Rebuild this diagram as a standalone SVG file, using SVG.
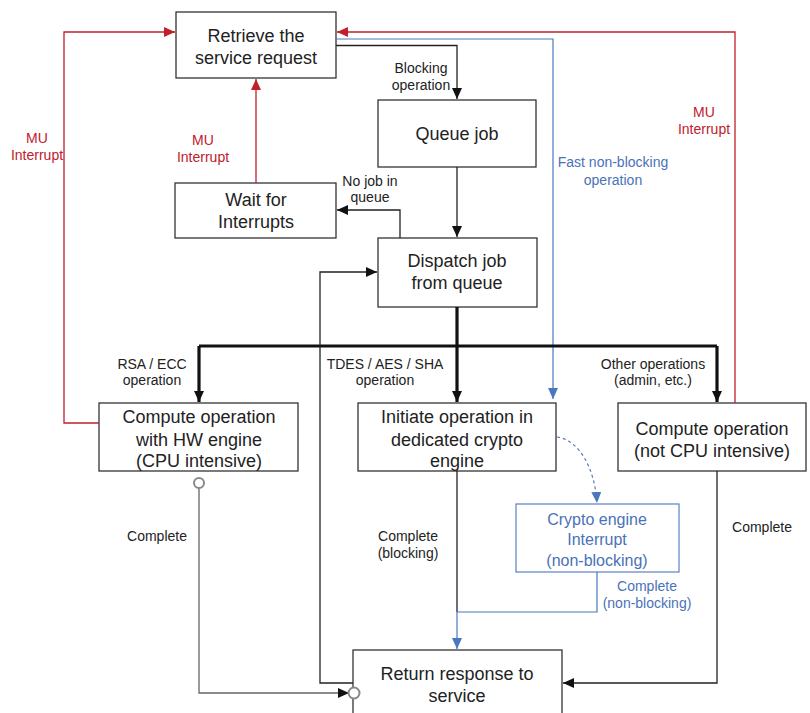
<svg xmlns="http://www.w3.org/2000/svg" width="810" height="713" viewBox="0 0 810 713">
<style>
  .box{fill:#fff;stroke:#333;stroke-width:1.3}
  .bbox{fill:#fff;stroke:#5a82c4;stroke-width:1.2}
  .t{font-family:"Liberation Sans",Arial,sans-serif;font-size:18px;fill:#222;text-anchor:middle}
  .tb{font-family:"Liberation Sans",Arial,sans-serif;font-size:16px;fill:#4a72b8;text-anchor:middle}
  .l{font-family:"Liberation Sans",Arial,sans-serif;font-size:14px;fill:#222;text-anchor:middle}
  .lr{font-family:"Liberation Sans",Arial,sans-serif;font-size:14px;fill:#c0202a;text-anchor:middle}
  .lb{font-family:"Liberation Sans",Arial,sans-serif;font-size:14px;fill:#4a72b8;text-anchor:middle}
  .k{fill:none;stroke:#222;stroke-width:1.3}
  .kt{fill:none;stroke:#111;stroke-width:3.2}
  .r{fill:none;stroke:#c0202a;stroke-width:1.3}
  .b{fill:none;stroke:#4a78c0;stroke-width:1.2}
  .g{fill:none;stroke:#666;stroke-width:1.3}
</style>
<defs>
  <marker id="ak" markerUnits="userSpaceOnUse" markerWidth="12" markerHeight="10" refX="11" refY="5" orient="auto"><path d="M0,0 L11,5 L0,10 z" fill="#111"/></marker>
  <marker id="ar" markerUnits="userSpaceOnUse" markerWidth="12" markerHeight="10" refX="11" refY="5" orient="auto"><path d="M0,0 L11,5 L0,10 z" fill="#c0202a"/></marker>
  <marker id="ab" markerUnits="userSpaceOnUse" markerWidth="12" markerHeight="10" refX="11" refY="5" orient="auto"><path d="M0,0 L11,5 L0,10 z" fill="#4a78c0"/></marker>
</defs>
<rect width="810" height="713" fill="#fff"/>

<g id="n-retrieve">
  <rect class="box" x="176" y="12" width="160" height="66"/>
  <text class="t" x="256" y="41.5">Retrieve the</text>
  <text class="t" x="256" y="63.5">service request</text>
</g>
<g id="n-queue">
  <rect class="box" x="378" y="100" width="158" height="67"/>
  <text class="t" x="457" y="140">Queue job</text>
</g>
<g id="n-wait">
  <rect class="box" x="175" y="183" width="161" height="55"/>
  <text class="t" x="256" y="206">Wait for</text>
  <text class="t" x="256" y="228">Interrupts</text>
</g>
<g id="n-dispatch">
  <rect class="box" x="378" y="238" width="159" height="69"/>
  <text class="t" x="457" y="267">Dispatch job</text>
  <text class="t" x="457" y="289">from queue</text>
</g>
<g id="n-hw">
  <rect class="box" x="99" y="403" width="199" height="68"/>
  <text class="t" x="199" y="423">Compute operation</text>
  <text class="t" x="199" y="445.5">with HW engine</text>
  <text class="t" x="199" y="467">(CPU intensive)</text>
</g>
<g id="n-initiate">
  <rect class="box" x="358" y="403" width="198" height="68"/>
  <text class="t" x="457" y="423">Initiate operation in</text>
  <text class="t" x="457" y="445.5">dedicated crypto</text>
  <text class="t" x="457" y="467">engine</text>
</g>
<g id="n-other">
  <rect class="box" x="618" y="403" width="188" height="68"/>
  <text class="t" x="712" y="435">Compute operation</text>
  <text class="t" x="712" y="457">(not CPU intensive)</text>
</g>
<g id="n-crypto-int">
  <rect class="bbox" x="516" y="504" width="163" height="68"/>
  <text class="tb" x="597" y="525">Crypto engine</text>
  <text class="tb" x="597" y="545">Interrupt</text>
  <text class="tb" x="597" y="566">(non-blocking)</text>
</g>
<g id="n-return">
  <rect class="box" x="353" y="650" width="209" height="75"/>
  <text class="t" x="457" y="680">Return response to</text>
  <text class="t" x="457" y="702">service</text>
</g>

<g id="connectors">
  <path class="r" d="M99,423 H64 V32 H175" marker-end="url(#ar)"/>
  <path class="r" d="M735,403 V32 H337" marker-end="url(#ar)"/>
  <path class="r" d="M256,183 V79" marker-end="url(#ar)"/>
  <path class="b" d="M336,39 H553 V399" marker-end="url(#ab)"/>
  <path class="k" d="M336,45.5 H457 V99" marker-end="url(#ak)"/>
  <path class="k" d="M457,167 V237" marker-end="url(#ak)"/>
  <path class="k" d="M400,238 V210 H337" marker-end="url(#ak)"/>
  <path class="kt" d="M457,307 V346"/>
  <path class="kt" d="M199,346 H717"/>
  <path class="kt" d="M199,346 V402" marker-end="url(#ak)"/>
  <path class="kt" d="M457,346 V402" marker-end="url(#ak)"/>
  <path class="kt" d="M717,346 V402" marker-end="url(#ak)"/>
  <path class="k" d="M353,683 H320 V272 H377" marker-end="url(#ak)"/>
  <path class="g" d="M199,488 V693 H349" marker-end="url(#ak)"/>
  <circle cx="199" cy="483" r="5" fill="#fff" stroke="#888" stroke-width="2"/>
  <circle cx="354" cy="693" r="5.5" fill="#fff" stroke="#888" stroke-width="2"/>
  <path class="k" d="M457,471 V612"/>
  <path class="b" d="M597,572 V612 H457 V649" marker-end="url(#ab)"/>
  <path class="b" d="M557,437 C580,440 595,470 597,503" stroke-dasharray="3,3" marker-end="url(#ab)"/>
  <path class="k" d="M717,471 V683 H563" marker-end="url(#ak)"/>
</g>

<g id="labels">
  <text class="l" x="421" y="73">Blocking</text>
  <text class="l" x="421" y="90">operation</text>
  <text class="l" x="370" y="186">No job in</text>
  <text class="l" x="370" y="202">queue</text>
  <text class="lr" x="37" y="143">MU</text>
  <text class="lr" x="37" y="160">Interrupt</text>
  <text class="lr" x="203" y="145">MU</text>
  <text class="lr" x="203" y="162">Interrupt</text>
  <text class="lr" x="704" y="117">MU</text>
  <text class="lr" x="704" y="134">Interrupt</text>
  <text class="lb" x="613" y="167">Fast non-blocking</text>
  <text class="lb" x="613" y="185">operation</text>
  <text class="l" x="152" y="369">RSA / ECC</text>
  <text class="l" x="152" y="385">operation</text>
  <text class="l" x="385" y="369">TDES / AES / SHA</text>
  <text class="l" x="385" y="385">operation</text>
  <text class="l" x="653" y="369">Other operations</text>
  <text class="l" x="653" y="385">(admin, etc.)</text>
  <text class="l" x="157" y="541">Complete</text>
  <text class="l" x="408" y="541">Complete</text>
  <text class="l" x="408" y="558">(blocking)</text>
  <text class="l" x="762" y="532">Complete</text>
  <text class="lb" x="647" y="591">Complete</text>
  <text class="lb" x="647" y="608">(non-blocking)</text>
</g>
</svg>
